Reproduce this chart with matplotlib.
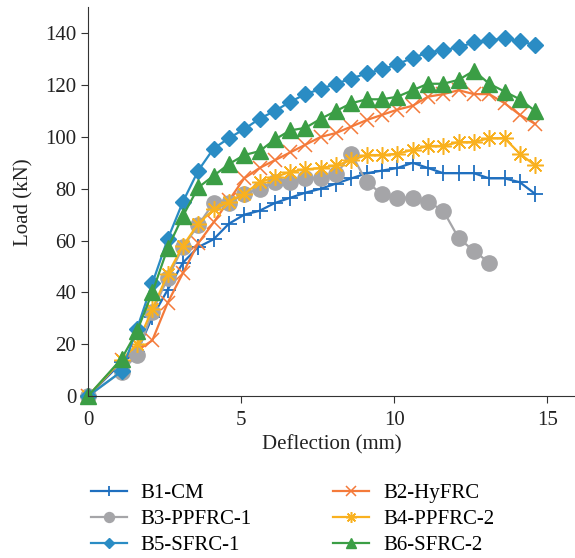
import matplotlib
matplotlib.use('Agg')
import matplotlib.pyplot as plt
import numpy as np

plt.rcParams['font.family'] = ['Liberation Serif', 'DejaVu Serif']

# deflection steps (mm)
defl = [0, 1.1, 1.6, 2.1, 2.6, 3.1, 3.6, 4.1, 4.6, 5.1, 5.6, 6.1, 6.6, 7.1, 7.6,
        8.1, 8.6, 9.1, 9.6, 10.1, 10.6, 11.1, 11.6, 12.1, 12.6, 13.1, 13.6, 14.1, 14.6]
defl_b3 = defl[:26]

b1_cm = [0, 13, 17, 30.5, 41, 51.5, 57.5, 60.5, 66.5, 70, 71.5, 74.5, 76.5, 78.5, 80,
         82, 84, 86, 87, 88, 90, 88, 86, 86, 86, 84, 84, 82.5, 78]
b2_hyfrc = [0, 14, 17.5, 21.5, 36, 47.5, 59, 67, 75.5, 84, 88, 91, 94, 97, 100,
            101.5, 104, 106.5, 108.5, 110.5, 112, 115.5, 116.5, 118, 116.5, 116.5, 113, 108.5, 105]
b3_ppfrc1 = [0, 9.5, 16, 32.5, 45.5, 57.5, 66, 74.5, 74.5, 78, 80, 82.5, 82.5, 84, 84,
             85.5, 93.5, 82.5, 78, 76.5, 76.5, 75, 71.5, 61, 56, 51.5]
b4_ppfrc2 = [0, 14, 20, 33.5, 47, 58, 66.5, 72, 75, 78, 82.5, 84.5, 86.5, 87.5, 88,
             89, 91, 93, 93, 93.5, 95, 96.5, 96.5, 98, 98, 99.5, 99.5, 93.5, 89]
b5_sfrc1 = [0, 9.6, 26, 43.5, 60.5, 75, 87, 95.5, 99.5, 103, 107, 110, 113.5, 116.5, 118.5,
            120.5, 122.5, 124.5, 126, 128, 130.5, 132.5, 133.5, 134.5, 136.5, 137.3, 138, 136.8, 135.5]
b6_sfrc2 = [0, 14.5, 25, 40, 57, 69.5, 80.5, 85, 89.5, 93, 94.5, 99, 102.5, 103.5, 107,
            110, 113, 114.5, 114.5, 115.5, 118, 120.5, 120.5, 122, 125.5, 120.5, 117.5, 114.5, 110]

fig = plt.figure(figsize=(5.75, 5.58), dpi=100)
ax = fig.add_axes([0.153, 0.29, 0.847, 0.697])

ax.plot(defl, b1_cm, color='#1f6fbf', lw=1.6, marker='+', ms=11, mew=1.3, label='B1-CM', clip_on=False)
ax.plot(defl, b2_hyfrc, color='#f47a3a', lw=1.6, marker='x', ms=10, mew=1.1, label='B2-HyFRC', clip_on=False)
ax.plot(defl_b3, b3_ppfrc1, color='#a5a5a8', lw=1.6, marker='o', ms=11, label='B3-PPFRC-1', clip_on=False)
ax.plot(defl, b4_ppfrc2, color='#f9b11f', lw=1.6, marker=(8, 2, 0), ms=12, mew=1.1, label='B4-PPFRC-2', clip_on=False)
ax.plot(defl, b5_sfrc1, color='#2a8cc4', lw=1.6, marker='D', ms=8.5, label='B5-SFRC-1', clip_on=False)
ax.plot(defl, b6_sfrc2, color='#3b9e45', lw=1.6, marker='^', ms=11, label='B6-SFRC-2', clip_on=False)

ax.set_xlim(0, 15.9)
ax.set_ylim(0, 150)
ax.set_xticks([0, 5, 10, 15])
ax.set_yticks(np.arange(0, 141, 20))
ax.spines['top'].set_visible(False)
ax.spines['right'].set_visible(False)
ax.spines['left'].set_color('#333333')
ax.spines['bottom'].set_color('#333333')
ax.tick_params(labelsize=15, length=5, color='#333333', labelcolor='#222222')
ax.tick_params(axis='x', pad=6)
ax.set_xlabel('Deflection (mm)', fontsize=15, color='#222222', labelpad=3)
ax.set_ylabel('Load (kN)', fontsize=15, color='#222222', labelpad=8)

# legend order: rows B1/B2, B3/B4, B5/B6
h, l = ax.get_legend_handles_labels()
order = [0, 2, 4, 1, 3, 5]
fig.legend([h[i] for i in order], [l[i] for i in order], ncol=2, frameon=False,
           loc='upper left', bbox_to_anchor=(0.125, 0.167), fontsize=15,
           markerscale=0.65, handlelength=1.75, handletextpad=0.65,
           columnspacing=3.9, labelspacing=0.3)

fig.savefig('out.png', dpi=100)
